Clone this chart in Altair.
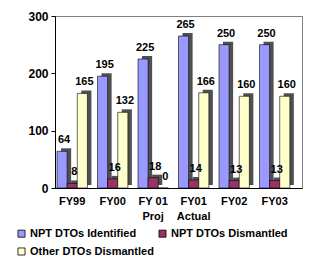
import altair as alt
import pandas as pd

categories = ["FY99", "FY00", "FY 01\nProj", "FY01\nActual", "FY02", "FY03"]
series = ["NPT DTOs Identified", "NPT DTOs Dismantled", "Other DTOs Dismantled"]
identified = [64, 195, 225, 265, 250, 250]
npt_dismantled = [8, 16, 18, 14, 13, 13]
other_dismantled = [165, 132, 0, 166, 160, 160]
colors = ["#9999FF", "#993366", "#FFFFCC"]
y_ticks = [0, 100, 200, 300]

rows = []
for i, c in enumerate(categories):
    for s, vals in enumerate([identified, npt_dismantled, other_dismantled]):
        rows.append({"key": f"{c}|{s}", "series": series[s], "value": vals[i]})
df = pd.DataFrame(rows)
domain = [f"{c}|{s}" for c in categories for s in range(4)]

FONT = "Liberation Sans"

x = alt.X(
    "key:N",
    sort=domain,
    scale=alt.Scale(domain=domain, paddingInner=0, paddingOuter=0.2),
    axis=alt.Axis(
        title=None,
        labelExpr="split(datum.value,'|')[1] == '1' ? split(split(datum.value,'|')[0], '\\n') : ''",
        labelAngle=0,
        labelFont=FONT,
        labelFontSize=11,
        labelFontWeight="bold",
        labelColor="black",
        labelLineHeight=15,
        labelPadding=7,
        labelBaseline="top",
        ticks=False,
        domainColor="black",
        labelOverlap=False,
    ),
)
y = alt.Y(
    "value:Q",
    scale=alt.Scale(domain=[0, 300], nice=False),
    axis=alt.Axis(
        title=None,
        values=y_ticks,
        grid=False,
        labelFont=FONT,
        labelFontSize=12,
        labelFontWeight="bold",
        labelColor="black",
        domainColor="black",
        tickColor="black",
        tickSize=4,
        labelPadding=3,
    ),
)

base = alt.Chart(df)

shadow = base.mark_bar(color="#505050", xOffset=4, yOffset=-3, y2Offset=-3).encode(x=x, y=y)

bars = base.mark_bar(stroke="black", strokeWidth=0.6).encode(
    x=x,
    y=y,
    color=alt.Color(
        "series:N",
        sort=series,
        scale=alt.Scale(domain=series, range=colors),
        legend=alt.Legend(
            title=None,
            orient="none",
            direction="horizontal",
            legendX=-39,
            legendY=212,
            columns=2,
            columnPadding=3,
            rowPadding=6,
            padding=0,
            symbolType="square",
            symbolSize=50,
            symbolStrokeColor="black",
            symbolStrokeWidth=0.8,
            labelFont=FONT,
            labelFontSize=11,
            labelFontWeight="bold",
            labelColor="black",
            labelLimit=200,
            labelOffset=3,
        ),
    ),
)

labels = base.mark_text(
    font=FONT, fontSize=11, fontWeight="bold", color="black",
    baseline="bottom", dy=-6, dx=2,
).encode(x=x, y=y, text="value:Q")

chart = (
    alt.layer(shadow, bars, labels)
    .properties(
        width=247,
        height=172,
        autosize=alt.AutoSizeParams(type="none"),
        padding={"left": 47, "top": 8, "right": 10, "bottom": 70},
        background="white",
    )
    .configure_view(stroke="#808080", strokeWidth=1)
)

chart.save("out.html", embed_options={"renderer": "svg", "actions": False})
